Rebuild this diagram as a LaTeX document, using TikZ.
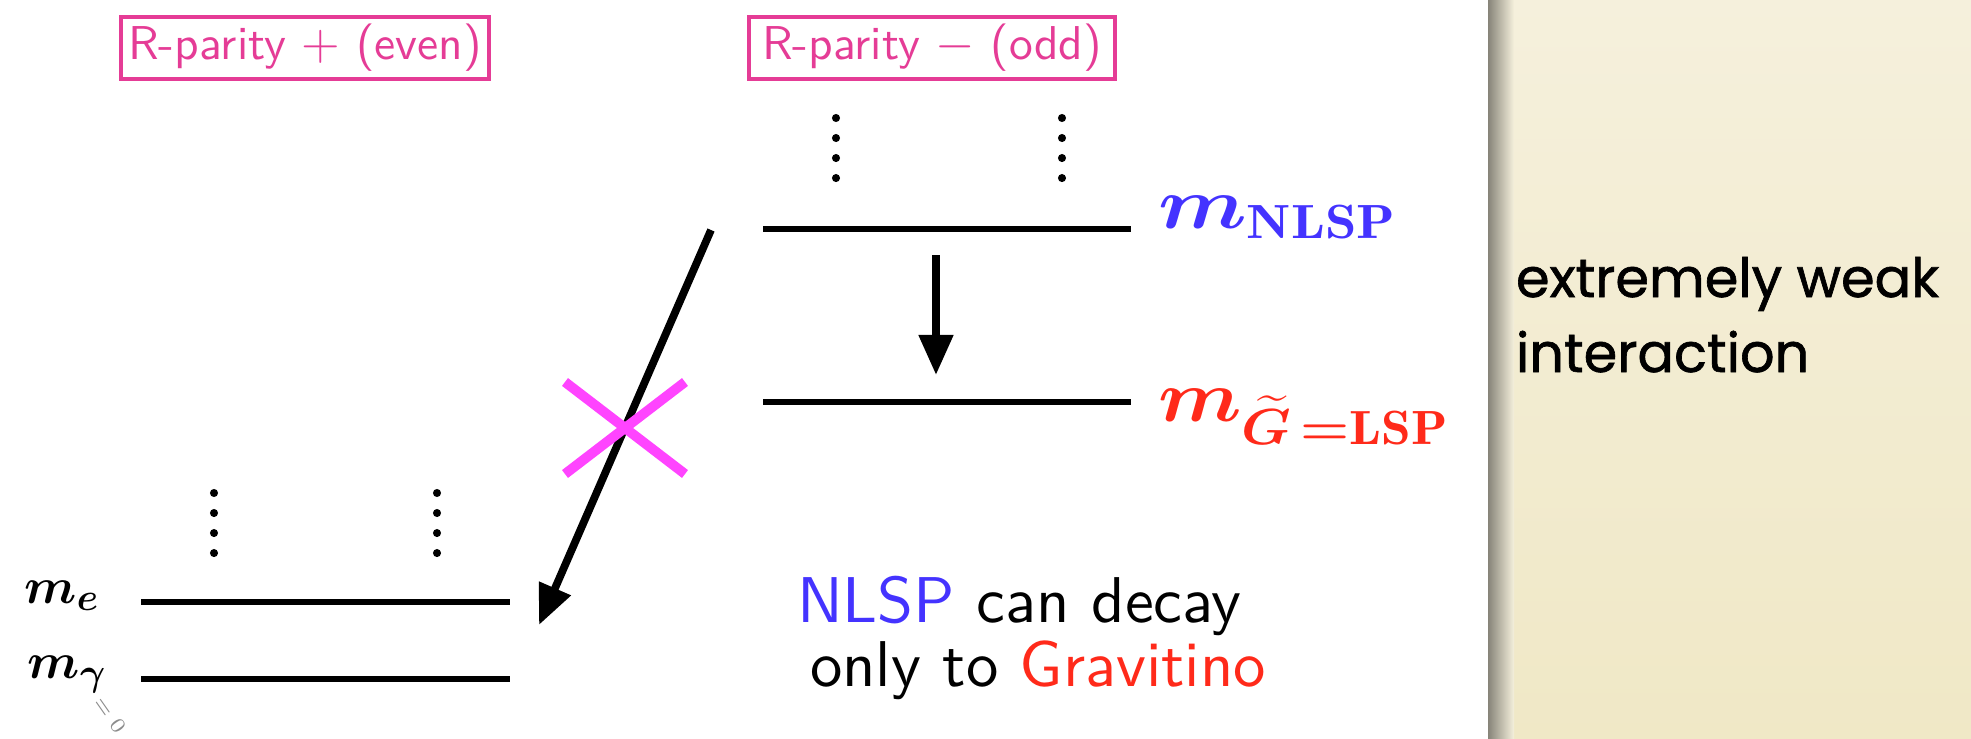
\documentclass[tikz,border=0pt]{standalone}
\usepackage{amsmath, amssymb}
\usepackage{graphicx}
\usepackage{fontspec}
\usetikzlibrary{positioning, arrows.meta, calc}
\newfontfamily\slidesans{lmsans10-regular.otf}
\newfontfamily\notefont{Poppins}[FakeBold=1.2]
\definecolor{rpink}{HTML}{E53C96}
\definecolor{nlspblue}{HTML}{4433FF}
\definecolor{gravred}{HTML}{FF2A1A}
\definecolor{vetomag}{HTML}{FF44FF}
\definecolor{creamtop}{HTML}{F5F0DC}
\definecolor{creambot}{HTML}{F0E8C6}
\newcommand{\wide}[2][1.18]{\scalebox{#1}[1]{#2}}

\begin{document}
\begin{tikzpicture}[
    x=0.01cm, y=-0.01cm,
    every node/.style={inner sep=0pt, outer sep=0pt},
    parity/.style={draw=rpink, line width=1.2pt, text=rpink, inner sep=2pt,
      font=\slidesans\fontsize{13.5}{15}\selectfont,
      minimum width=3.66cm, minimum height=0.5cm},
    energyline/.style={line width=1.6pt},
    tower/.style={line width=2.3pt, line cap=round, dash pattern=on 0pt off 0.2cm},
    decay/.style={line width=2.2pt, -{Triangle[length=0.4cm, width=0.33cm]}},
    veto/.style={draw=vetomag, line width=2.8pt},
    masslab/.style={font=\fontsize{19.5}{22}\selectfont, anchor=base west},
    smlab/.style={font=\fontsize{15}{18}\selectfont, anchor=base east},
    slide/.style={font=\slidesans\fontsize{18.4}{22}\selectfont, anchor=base west},
    note/.style={font=\notefont\fontsize{15.4}{18}\selectfont, anchor=base west},
  ]
  % background, side panel
  \useasboundingbox (0,0) rectangle (1971,739);
  \fill[white] (0,0) rectangle (1971,739);
  \shade[top color=creamtop, bottom color=creambot] (1488,0) rectangle (1971,739);
  \shade[left color=black!45!creamtop, right color=creamtop] (1488,0) rectangle (1514,739);

  % parity headers
  \node[parity] (even) at (305,48) {R-parity $+$ (even)};
  \node[parity] (odd) at (932,48) {R-parity $-$ (odd)};

  % R-odd levels
  \coordinate (nlspL) at (763,229);
  \coordinate (nlspR) at (1131,229);
  \coordinate (lspL) at (763,402);
  \coordinate (lspR) at (1131,402);
  \draw[energyline] (nlspL) -- (nlspR);
  \draw[energyline] (lspL) -- (lspR);
  \draw[tower] (836,118) -- (836,198);
  \draw[tower] (1062,118) -- (1062,198);
  \node[masslab, text=nlspblue] (nlsplab) at (1158,228) {\wide{$\boldsymbol{m}_{\mathbf{NLSP}}$}};
  \node[masslab, text=gravred] (lsplab) at (1158,421) {\wide[1.11]{$\boldsymbol{m}_{\boldsymbol{\widetilde{G}}\,\boldsymbol{=}\mathbf{LSP}}$}};

  % R-even levels
  \coordinate (eL) at (141,602);
  \coordinate (eR) at (510,602);
  \coordinate (gL) at (141,679);
  \coordinate (gR) at (510,679);
  \draw[energyline] (eL) -- (eR);
  \draw[energyline] (gL) -- (gR);
  \draw[tower] (214,493) -- (214,573);
  \draw[tower] (437,493) -- (437,573);
  \node[smlab] (elab) at (100,603) {$\boldsymbol{m}_{\boldsymbol{e}}$};
  \node[smlab] (glab) at (107,678) {$\boldsymbol{m}_{\boldsymbol{\gamma}}$};
  \node[font=\fontsize{6}{7}\selectfont, text=black!45, rotate=-55] (gzero) at (110,715) {$=0$};

  % decays
  \coordinate (nlspTop) at (936,255);
  \coordinate (lspTop) at (936,375);
  \draw[decay] (nlspTop) -- (lspTop);
  \coordinate (oddStart) at (711,230);
  \coordinate (evenEnd) at (539,625);
  \draw[decay] (oddStart) -- (evenEnd);
  \coordinate (cross) at (625,428);
  \draw[veto] ($(cross)+(-60,-46)$) -- ($(cross)+(60,46)$);
  \draw[veto] ($(cross)+(60,-46)$) -- ($(cross)+(-60,46)$);

  % statement
  \node[slide] (candecay) at (797,622) {\textcolor{nlspblue}{NLSP} can decay};
  \node[slide] (onlyto) at ($(candecay.base west)+(13,64)$) {only to \textcolor{gravred}{Gravitino}};

  % side note
  \node[note] (weak) at (1516,297) {extremely weak};
  \node[note] (inter) at ($(weak.base west)+(0,75)$) {interaction};
\end{tikzpicture}
\end{document}
